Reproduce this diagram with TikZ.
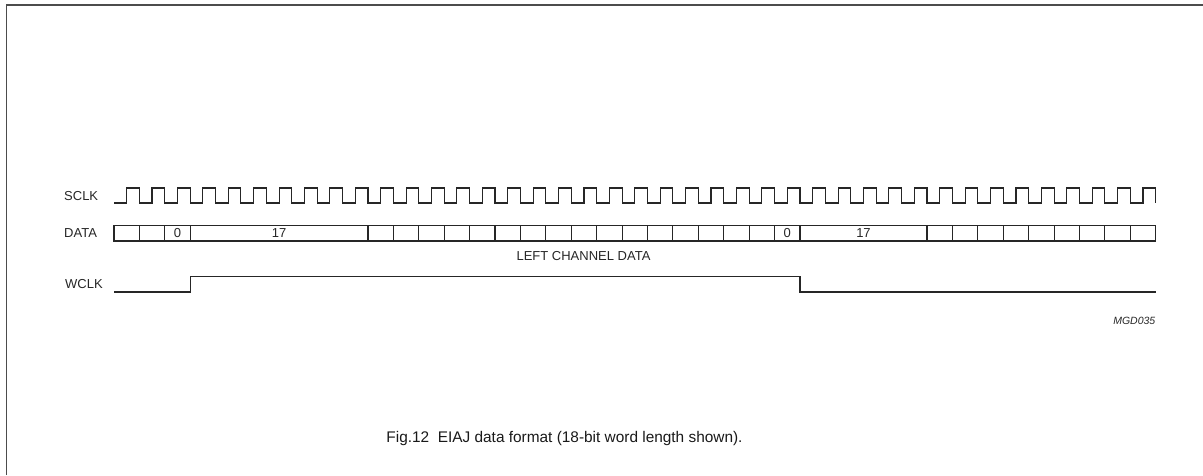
\documentclass[tikz,border=0pt]{standalone}
\usepackage{fontspec}
\setmainfont{Liberation Sans}
\begin{document}
\begin{tikzpicture}[x=1pt,y=-1pt,
  wave/.style={line width=1.1pt,draw=black!85},
  frameline/.style={line width=1.5pt,draw=black!70},
  lbl/.style={inner sep=0pt,font=\fontsize{13}{15}\selectfont,text=black!85},
  captext/.style={inner sep=0pt,font=\fontsize{15.4}{17}\selectfont,text=black!90},
  tag/.style={inner sep=0pt,font=\fontsize{10.5}{12}\selectfont\itshape,text=black!85}]
\useasboundingbox (0,0) rectangle (1203,475);
\def\xo{139.3}\def\p{25.41}\def\h{12.7}
\def\lo{203}\def\hi{188}
% frame (top and left)
\draw[frameline] (6.5,475) -- (6.5,5) -- (1203,5);
% labels
\node[lbl,anchor=west] (sclk) at (64,196) {SCLK};
\node[lbl,anchor=west] (data) at (64,233.4) {DATA};
\node[lbl,anchor=west] (wclk) at (65,284.5) {WCLK};
% SCLK waveform
\draw[wave] (114,\lo) foreach \k in {0,...,40} {
  -- ({\xo+\p*\k-\h},\lo) -- ({\xo+\p*\k-\h},\hi)
  -- ({\xo+\p*\k},\hi) -- ({\xo+\p*\k},\lo) };
% DATA box
\draw[wave] (114,225.7) rectangle ({\xo+\p*40},241);
\foreach \k in {0,1,2,9,10,...,26,31,32,...,39}
  \draw[wave] ({\xo+\p*\k},225.7) -- ({\xo+\p*\k},241);
\node[lbl] (d0a) at ({\xo+\p*1.5},233.4) {0};
\node[lbl] (d17a) at ({\xo+\p*5.5},233.4) {17};
\node[lbl] (d0b) at ({\xo+\p*25.5},233.4) {0};
\node[lbl] (d17b) at ({\xo+\p*28.5},233.4) {17};
\node[lbl] (left) at (583.5,256) {LEFT CHANNEL DATA};
% WCLK waveform
\draw[wave] (114,292) -- ({\xo+\p*2},292) -- ({\xo+\p*2},276.7)
  -- ({\xo+\p*26},276.7) -- ({\xo+\p*26},292) -- ({\xo+\p*40},292);
% tag and caption
\node[tag,anchor=east] (mgd) at (1155.5,321) {MGD035};
\node[captext,anchor=base] (caption) at (564.5,442.8) {Fig.12\ \ EIAJ data format (18-bit word length shown).};
\end{tikzpicture}
\end{document}
